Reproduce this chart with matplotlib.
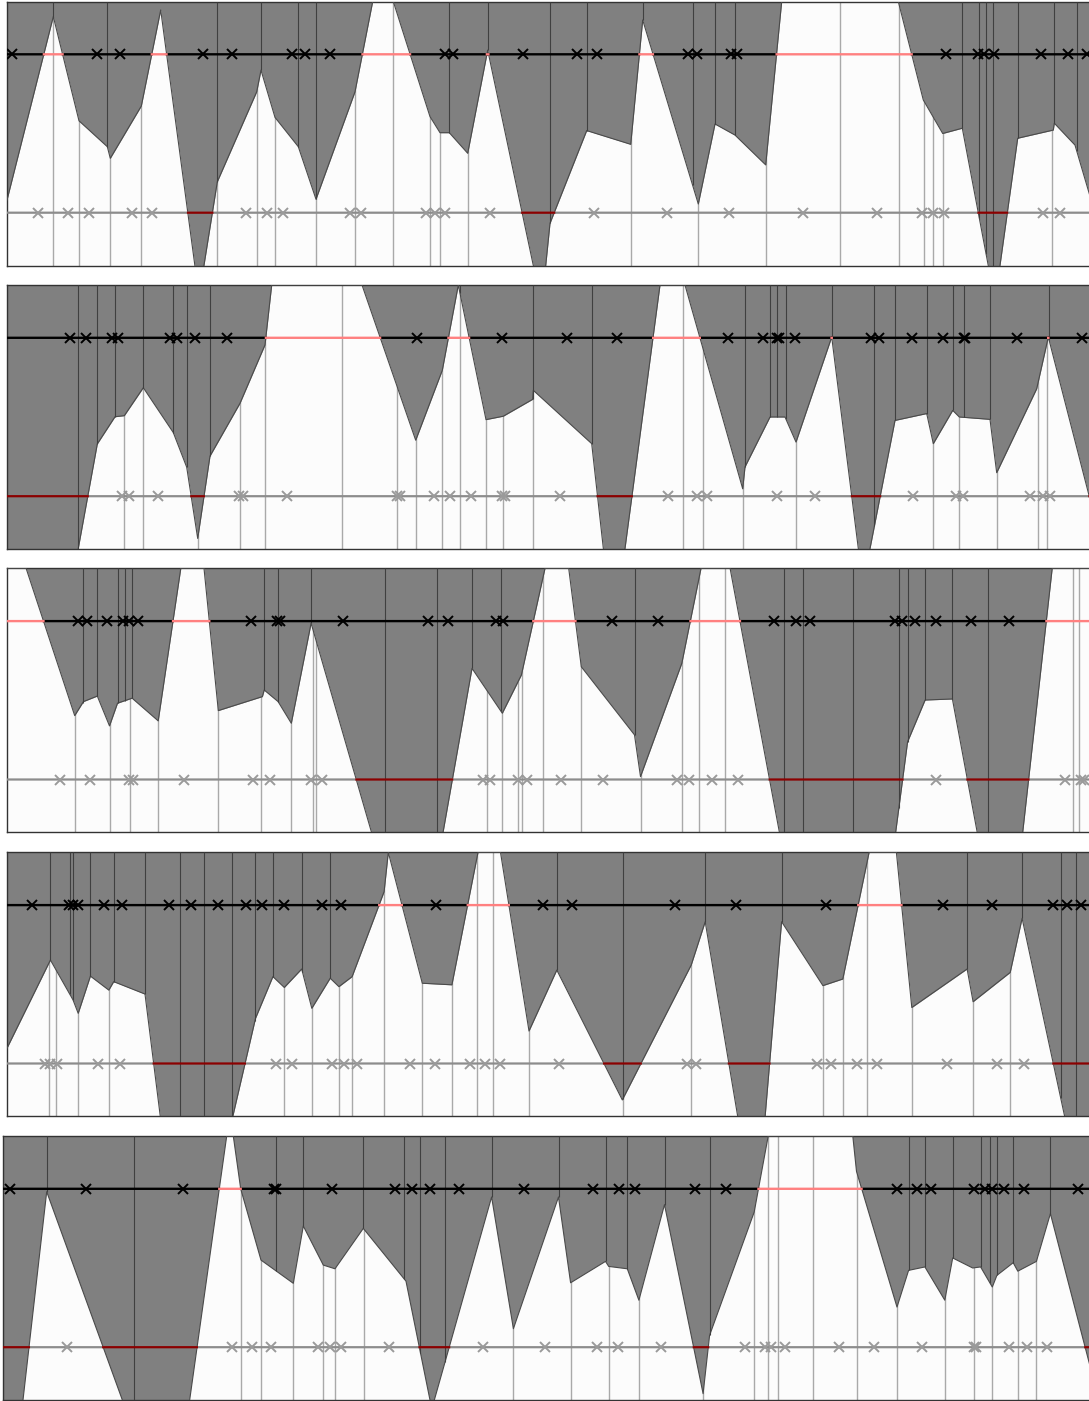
import numpy as np
import matplotlib.pyplot as plt

# levels of the two horizontal guide lines
top_level = 0.8
bot_level = 0.2

# ---- panel 1 ----
p1_curve_x = [7, 53.3, 79, 107.3, 110.3, 141.3, 160.7, 199, 217.3, 256.7, 261, 275, 298.3, 316, 355,
              372.7, 393.3, 430, 440, 449.3, 467.7, 487.7, 541.7, 550, 586.7, 630.7, 642.7, 698.3, 715,
              735, 765.7, 781.7, 898.3, 923.3, 942.7, 962.3, 995, 1017.7, 1053.3, 1054.3, 1075, 1092]
p1_curve_y = [0.248, 0.943, 0.548, 0.45, 0.406, 0.604, 0.968, -0.117, 0.317, 0.658, 0.74, 0.561, 0.45,
              0.251, 0.658, 1.0, 1.0, 0.564, 0.503, 0.503, 0.425, 0.816, -0.15, 0.16, 0.511, 0.459, 0.93,
              0.233, 0.536, 0.494, 0.381, 1.0, 1.0, 0.627, 0.5, 0.52, -0.135, 0.482, 0.513, 0.539, 0.456, 0.237]
p1_dark = [53.3, 107.3, 217.3, 261, 298.3, 316, 449.3, 487.7, 550, 586.7, 642.7, 692.7, 715, 735,
           962.3, 979.3, 986, 993.3, 1017.7, 1054.3, 1076.7]
p1_light = [53.3, 79, 110.3, 141.3, 217.3, 256.7, 275, 316, 355, 393.3, 430, 440, 467.7, 630.7, 698.3,
            765.7, 840, 899.3, 924, 933.3, 942.7, 1051.7]
p1_top = [11.7, 96.7, 120, 203.3, 231.7, 291.7, 305, 330, 445, 453.3, 522.7, 576.7, 596.7, 688.3, 697.3,
          731, 737, 946, 978, 984, 994, 1041, 1068.3, 1086.7]
p1_bot = [38.3, 68.3, 89.3, 131.7, 151.7, 246, 266.7, 282.7, 350, 361, 426, 435, 445, 490, 594.3, 666.7,
          729, 803.3, 877.3, 922, 933, 944, 1042.7, 1060]

# ---- panel 2 ----
p2_curve_x = [7, 77.2, 97.3, 115, 124.3, 143.3, 173.3, 186.7, 197.7, 210, 240, 265, 271.7, 362, 415.7,
              442.3, 458.3, 486, 503.3, 532.7, 533.3, 591.7, 613.2, 660, 685, 742.7, 745, 770, 785, 796,
              831.7, 862.9, 895, 926.7, 933.3, 952.7, 959.3, 990, 996.7, 1036.7, 1048.3, 1092]
p2_curve_y = [-0.05, -0.02, 0.398, 0.501, 0.505, 0.611, 0.441, 0.31, 0.04, 0.352, 0.552, 0.773, 1.0, 1.0,
              0.412, 0.677, 1.0, 0.49, 0.503, 0.567, 0.601, 0.399, -0.334, 1.0, 1.0, 0.228, 0.311, 0.5,
              0.5, 0.405, 0.803, -0.136, 0.487, 0.513, 0.399, 0.525, 0.5, 0.491, 0.289, 0.607, 0.803, 0.159]
p2_dark = [77.7, 97.3, 115, 143.3, 173.3, 186.7, 210, 460, 532.7, 591.7, 745, 770, 777.3, 786, 831.7,
           874.3, 895, 926.7, 952.7, 964.3, 990, 1049]
p2_light = [124.3, 143.3, 197.7, 240, 265, 341.7, 396.7, 415.7, 442.3, 460, 486, 503.3, 532.7, 682.7,
            702.7, 742.7, 796, 933.3, 959.3, 996.7, 1038.3, 1046.7]
p2_top = [70, 86, 111.7, 118.3, 170, 177.3, 195, 226.7, 416.7, 501.7, 566.7, 617.3, 728, 763.3, 776.5,
          779, 795, 870.7, 879.3, 911.7, 942.7, 963.5, 965, 1016.7, 1081.7]
p2_bot = [121.7, 129, 158.3, 239, 243.3, 287.3, 397, 399.5, 434, 450, 471, 501.7, 505, 560, 668.3, 697.3,
          706.7, 777.3, 815, 912.7, 955.7, 963.3, 1030, 1043.3, 1050]

# ---- panel 3 ----
p3_curve_x = [7, 26.1, 74.7, 83.4, 97.3, 109.5, 117.5, 132.1, 158.2, 180.8, 204, 218.3, 262.4, 264.2,
              278.1, 291.3, 311.1, 415.9, 472, 502.3, 521.4, 545, 568.7, 581.3, 634.5, 640.5, 681.8, 701,
              730.1, 779.9, 895.3, 907.6, 925.1, 952.4, 977.7, 1022.4, 1052.2, 1092]
p3_curve_y = [1.0, 1.0, 0.442, 0.495, 0.516, 0.403, 0.489, 0.508, 0.422, 1.0, 1.0, 0.461, 0.514, 0.539,
              0.495, 0.413, 0.792, -0.582, 0.621, 0.451, 0.596, 1.0, 1.0, 0.627, 0.369, 0.211, 0.64, 1.0,
              1.0, -0.01, -0.01, 0.343, 0.501, 0.505, -0.01, -0.01, 1.0, 1.0]
p3_dark = [82.7, 97.3, 117.5, 125.1, 132.1, 264.2, 278.1, 311.1, 385.1, 437.3, 472, 500.5, 634.5, 784.4,
           803.3, 853.3, 898.9, 907.6, 925.1, 952.4, 988.1]
p3_light = [74.7, 109.5, 130.4, 158.2, 218.3, 260.7, 291.3, 312.8, 316.3, 486.6, 502.3, 517.9, 522.1,
            542.8, 581.3, 640.5, 681.8, 699.3, 724.5, 1072.9, 1079.2]
p3_top = [78, 87, 107, 123, 129, 138, 251, 277.4, 280.2, 343.1, 428.2, 448.4, 496.4, 503.3, 611.8, 658.3,
          773.9, 795.6, 810.3, 895.4, 902.4, 915.3, 935.6, 970.6, 1009.1]
p3_bot = [59.8, 90.4, 128.6, 132.8, 184.2, 253, 270.4, 311.1, 321.5, 483.2, 490.1, 517.9, 526.6, 561, 603,
          676.5, 688.8, 711.5, 737.8, 935.6, 1065.2, 1080.9, 1084.4]

# ---- panel 4 ----
p4_curve_x = [7, 50.4, 73, 78.2, 90.4, 108.8, 113.7, 145, 160.6, 232.2, 255.5, 272.9, 284.3, 301.7, 311.8,
              330.2, 338.9, 352.1, 384.1, 388.3, 422.3, 451.9, 478, 500.5, 529, 556.8, 622.3, 691.2, 705.2,
              755.9, 781.6, 822.9, 842.8, 869.1, 896.4, 911.8, 967.1, 973.1, 1010.2, 1022.1, 1065.2, 1092]
p4_curve_y = [0.258, 0.592, 0.441, 0.39, 0.531, 0.478, 0.51, 0.463, -0.01, -0.01, 0.371, 0.529, 0.488,
              0.558, 0.409, 0.523, 0.491, 0.529, 0.851, 1.0, 0.504, 0.498, 1.0, 1.0, 0.323, 0.554, 0.062,
              0.573, 0.737, -0.413, 0.737, 0.495, 0.52, 1.0, 1.0, 0.412, 0.558, 0.434, 0.545, 0.75, -0.01, -0.01]
p4_dark = [50.4, 69.5, 73, 90.4, 113.7, 145, 179.7, 204.4, 232.2, 254.8, 272.9, 302.4, 330.2, 388.3,
           556.8, 623, 705.2, 781.6, 967.1, 1022.1, 1060.6, 1075.7]
p4_light = [48.7, 55.6, 78.2, 108.8, 284.3, 311.8, 338.9, 352.1, 384.1, 422.3, 451.9, 476.9, 492.6, 529,
            623, 691.2, 822.9, 842.8, 867.3, 911.8, 973.1, 1010.2]
p4_top = [32, 68.5, 73, 77.5, 103.6, 122.4, 168.6, 190.5, 218.3, 246.1, 261.7, 284.3, 321.5, 340.6, 436.2,
          543, 571.5, 674.8, 736.1, 826.4, 942.6, 991.6, 1052.9, 1066.9, 1080.9]
p4_bot = [45.2, 50.4, 57.4, 98.4, 119.9, 276.3, 292, 332, 344.1, 357.3, 410.2, 434.5, 470, 484.9, 499.9,
          559.3, 687, 695.8, 816.6, 830.6, 856.8, 877.1, 947.2, 996.9, 1024.2]

# ---- panel 5 ----
p5_curve_x = [3, 22.7, 46.7, 123.3, 189.3, 226.7, 233.3, 240.7, 261, 293.3, 303.3, 323.3, 335, 363.3, 406,
              431.8, 491.6, 513.4, 558.5, 570.6, 605.5, 608.7, 627.3, 638.9, 664.5, 703.1, 709.6, 754.2,
              768.2, 852.8, 856.5, 897, 908.6, 924.9, 944.8, 952.7, 972.7, 980.6, 992.3, 996.9, 1013.2,
              1017.8, 1036.4, 1050.4, 1092]
p5_curve_y = [-0.01, -0.01, 0.789, -0.01, -0.01, 1.0, 1.0, 0.8, 0.53, 0.442, 0.659, 0.511, 0.497, 0.65,
              0.45, -0.034, 0.769, 0.27, 0.769, 0.444, 0.525, 0.506, 0.497, 0.378, 0.74, 0.024, 0.245,
              0.712, 1.0, 1.0, 0.866, 0.352, 0.491, 0.504, 0.378, 0.538, 0.5, 0.504, 0.428, 0.472, 0.52,
              0.488, 0.525, 0.706, 0.1]
p5_dark = [46.7, 134.3, 275.7, 303.3, 363.3, 404.2, 420.4, 445.1, 491.6, 558.5, 605.5, 627.3, 664.5,
           709.6, 908.6, 924.9, 952.7, 980.6, 990, 996.9, 1013.2, 1050.4]
p5_light = [240.7, 261, 293.3, 323.3, 335, 363.7, 513.4, 570.6, 608.7, 638.9, 703.1, 754.2, 768.2, 778.4,
            813.3, 856.5, 897, 944.8, 973.7, 992.3, 1017.8, 1036.4]
p5_top = [10, 86, 182.7, 274, 276, 331.7, 394.9, 412.1, 429.7, 459, 524.1, 592.5, 619.4, 635.2, 694.7,
          725.9, 897, 916.9, 930.9, 973.7, 985, 992, 1003.9, 1023.9, 1078.3]
p5_bot = [66.7, 231.7, 251.7, 270.7, 318.3, 330, 340.7, 388.8, 483.2, 544.6, 597.1, 618, 661.3, 745,
          764.5, 771.4, 785.4, 838.9, 873.7, 921.6, 973.7, 976, 1008.5, 1027.1, 1047.1]

panels = [
    (p1_curve_x, p1_curve_y, p1_dark, p1_light, p1_top, p1_bot),
    (p2_curve_x, p2_curve_y, p2_dark, p2_light, p2_top, p2_bot),
    (p3_curve_x, p3_curve_y, p3_dark, p3_light, p3_top, p3_bot),
    (p4_curve_x, p4_curve_y, p4_dark, p4_light, p4_top, p4_bot),
    (p5_curve_x, p5_curve_y, p5_dark, p5_light, p5_top, p5_bot),
]

W, H = 1089, 1401
panel_tops = [1.5, 285, 568.3, 852.3, 1136]
panel_lefts = [7, 7, 7, 7, 3]
panel_h = 264
x_right = 1092

fig = plt.figure(figsize=(W / 100, H / 100), dpi=100)

for i, (cx, cy, dark, light, topm, botm) in enumerate(panels):
    left = panel_lefts[i]
    ax = fig.add_axes([left / W, 1 - (panel_tops[i] + panel_h) / H,
                       (x_right - left) / W, panel_h / H])
    ax.set_xlim(left, x_right)
    ax.set_ylim(0, 1)
    ax.set_facecolor('#fcfcfc')
    cx = np.array(cx)
    cy = np.array(cy)

    # light separators under the fill
    ax.vlines(light, 0, 1, color='#a9a9a9', lw=1.0, zorder=1)
    # gray region from the curve up to the top
    ax.fill_between(cx, cy, 1, color='#808080', lw=0, zorder=2)
    ax.plot(cx, cy, color='#4a4a4a', lw=0.8, zorder=3)
    ax.vlines(dark, np.interp(dark, cx, cy), 1, color='#404040', lw=0.8, zorder=3)

    # guide lines, coloured by which side of the curve they fall on
    xs = np.linspace(left, x_right, 5000)
    cv = np.interp(xs, cx, cy)
    ax.plot(xs, np.where(cv < bot_level, np.nan, bot_level), color='#8c8c8c', lw=1.6, zorder=4)
    ax.plot(xs, np.where(cv < bot_level, bot_level, np.nan), color='#8b0000', lw=1.6, zorder=4)
    ax.plot(xs, np.where(cv > top_level, np.nan, top_level), color='black', lw=1.7, zorder=4)
    ax.plot(xs, np.where(cv > top_level, top_level, np.nan), color='#ff8080', lw=1.7, zorder=4)

    ax.plot(topm, [top_level] * len(topm), 'x', color='black', ms=7, mew=1.4, zorder=5)
    ax.plot(botm, [bot_level] * len(botm), 'x', color='#9a9a9a', ms=7, mew=1.4, zorder=5)

    ax.set_xticks([])
    ax.set_yticks([])
    for s in ax.spines.values():
        s.set_color('#333333')
        s.set_linewidth(1.0)

fig.savefig('out.png', dpi=100)
